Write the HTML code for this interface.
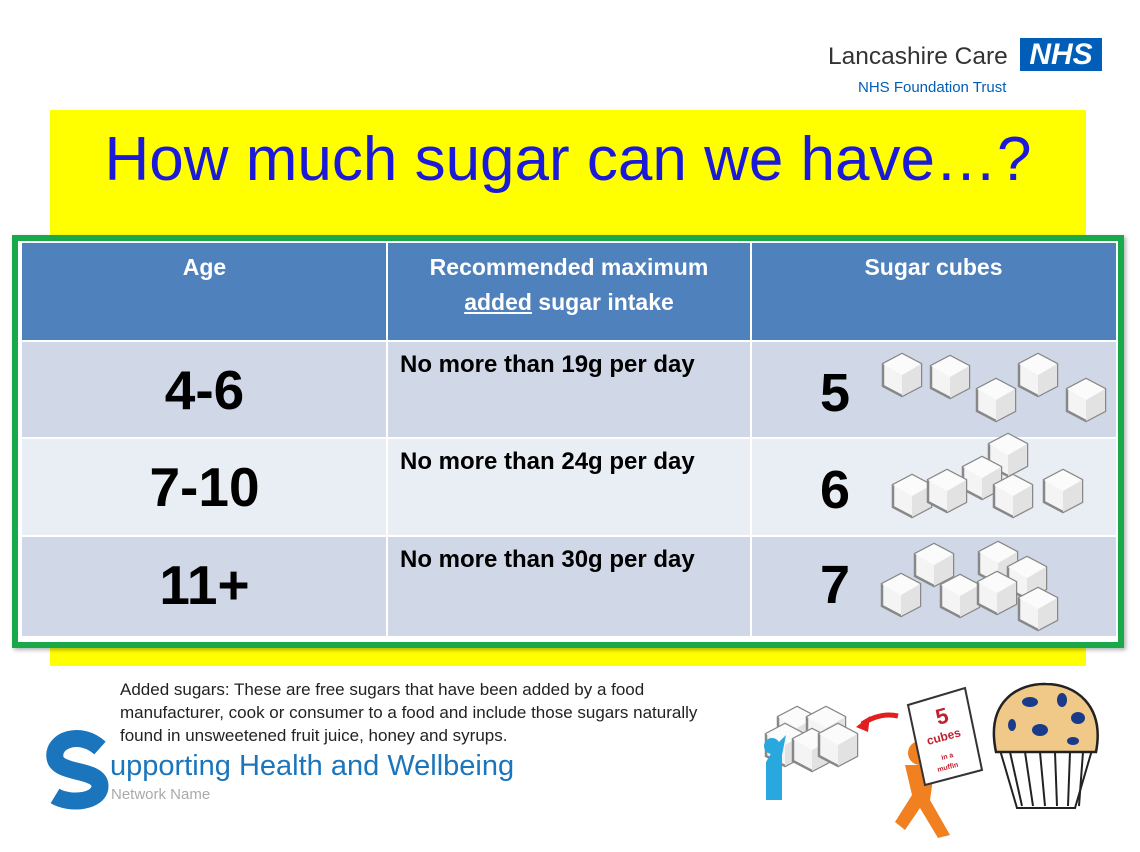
<!DOCTYPE html>
<html><head><meta charset="utf-8"><style>
body{margin:0;width:1140px;height:852px;background:#fff;position:relative;overflow:hidden;font-family:"Liberation Sans",sans-serif}
.abs{position:absolute}
.cell{position:absolute;color:#000;font-weight:bold}
</style></head><body>
<div class="abs" style="left:828px;top:43px;font-size:24.5px;color:#333">Lancashire Care</div>
<div class="abs" style="left:1020px;top:38px;width:82px;height:33px;background:#005eb8;color:#fff;font-weight:bold;font-style:italic;font-size:30px;line-height:33px;text-align:center">NHS</div>
<div class="abs" style="left:858px;top:79px;font-size:15px;color:#005eb8">NHS Foundation Trust</div>
<div class="abs" style="left:50px;top:110px;width:1036px;height:556px;background:#ffff00"></div>
<div class="abs" style="left:50px;top:124px;width:1036px;text-align:center;font-size:62px;color:#1a1ad8">How much sugar can we have…?</div>
<div class="abs" style="left:12px;top:235px;width:1100px;height:401px;border:6px solid #19a84a;background:#fff;box-shadow:2px 2px 4px rgba(0,0,0,.3)"></div>
<div class="abs" style="left:22px;top:243px;width:1094px;height:97px;background:#4f81bd"></div>
<div class="abs" style="left:22px;top:342px;width:1094px;height:95px;background:#d0d8e8"></div>
<div class="abs" style="left:22px;top:439px;width:1094px;height:96px;background:#e9edf4"></div>
<div class="abs" style="left:22px;top:537px;width:1094px;height:99px;background:#d0d8e8"></div>
<div class="abs" style="left:386px;top:243px;width:2px;height:393px;background:#fff"></div>
<div class="abs" style="left:750px;top:243px;width:2px;height:393px;background:#fff"></div>
<div class="cell" style="left:22px;top:254px;width:365px;text-align:center;color:#fff;font-size:23px">Age</div>
<div class="cell" style="left:387px;top:250px;width:364px;text-align:center;color:#fff;font-size:23px;line-height:35px">Recommended maximum<br><u>added</u> sugar intake</div>
<div class="cell" style="left:751px;top:254px;width:365px;text-align:center;color:#fff;font-size:23px">Sugar cubes</div>
<div class="cell" style="left:22px;top:358px;width:365px;text-align:center;font-size:55px">4-6</div>
<div class="cell" style="left:22px;top:455px;width:365px;text-align:center;font-size:55px">7-10</div>
<div class="cell" style="left:22px;top:553px;width:365px;text-align:center;font-size:55px">11+</div>
<div class="cell" style="left:400px;top:351px;font-size:24px">No more than 19g per day</div>
<div class="cell" style="left:400px;top:448px;font-size:24px">No more than 24g per day</div>
<div class="cell" style="left:400px;top:546px;font-size:24px">No more than 30g per day</div>
<div class="cell" style="left:820px;top:362px;font-size:54px">5</div>
<div class="cell" style="left:820px;top:459px;font-size:54px">6</div>
<div class="cell" style="left:820px;top:554px;font-size:54px">7</div>
<svg class="abs" style="left:0;top:0" width="1140" height="852">
<defs><g id="c"><polygon points="0,-21 19,-11 19,11 0,21 -19,11 -19,-11" fill="#f4f4f4" stroke="#888" stroke-width="2.5"/><polygon points="0,0 19,-11 19,11 0,21" fill="#e2e2e2"/><polygon points="0,-21 19,-11 0,0 -19,-11" fill="#fbfbfb"/></g></defs>
<use href="#c" x="902" y="375"/><use href="#c" x="950" y="377"/><use href="#c" x="996" y="400"/><use href="#c" x="1038" y="375"/><use href="#c" x="1086" y="400"/>
<use href="#c" x="1008" y="455"/><use href="#c" x="982" y="478"/><use href="#c" x="912" y="496"/><use href="#c" x="947" y="491"/><use href="#c" x="1013" y="496"/><use href="#c" x="1063" y="491"/>
<use href="#c" x="934" y="565"/><use href="#c" x="998" y="563"/><use href="#c" x="1027" y="578"/><use href="#c" x="901" y="595"/><use href="#c" x="960" y="596"/><use href="#c" x="997" y="593"/><use href="#c" x="1038" y="609"/>
<path d="M100 748 C80 730 52 740 55 758 C58 775 100 768 100 786 C100 802 70 805 55 796" fill="none" stroke="#1b75bc" stroke-width="17"/>
<use href="#c" x="797" y="728"/><use href="#c" x="826" y="728"/><use href="#c" x="785" y="745"/><use href="#c" x="812" y="750"/><use href="#c" x="838" y="745"/>
<path d="M766 800 L766 762 L776 745 L786 735 L782 755 L782 800 Z" fill="#29a8e0"/>
<circle cx="772" cy="746" r="8" fill="#29a8e0"/>
<path d="M898 716 Q880 712 862 724" fill="none" stroke="#e02020" stroke-width="5"/>
<polygon points="856,727 870,716 868,732" fill="#e02020"/>
<circle cx="920" cy="753" r="12" fill="#f08020"/>
<path d="M905 765 L935 765 L930 800 L950 835 L938 838 L920 808 L905 830 L895 822 L912 795 Z" fill="#f08020"/>
<polygon points="908,705 965,688 982,770 925,785" fill="#fff" stroke="#333" stroke-width="2"/>
<text x="938" y="725" font-family="Liberation Sans,sans-serif" font-weight="bold" font-size="22" fill="#c02030" transform="rotate(-15 938 725)">5</text>
<text x="928" y="745" font-family="Liberation Sans,sans-serif" font-weight="bold" font-size="12" fill="#c02030" transform="rotate(-15 928 745)">cubes</text>
<text x="942" y="760" font-family="Liberation Sans,sans-serif" font-weight="bold" font-size="7" fill="#c02030" transform="rotate(-15 942 760)">in a</text>
<text x="938" y="772" font-family="Liberation Sans,sans-serif" font-weight="bold" font-size="7" fill="#c02030" transform="rotate(-15 938 772)">muffin</text>
<path d="M1000 750 L1092 750 L1075 808 L1017 808 Z" fill="#fff" stroke="#222" stroke-width="2"/>
<path d="M1010 752 L1022 806 M1025 752 L1033 806 M1040 752 L1045 806 M1055 752 L1057 806 M1070 752 L1068 806 M1083 752 L1079 806" stroke="#222" stroke-width="2"/>
<path d="M996 752 C985 700 1020 683 1046 684 C1075 684 1105 705 1096 752 Z" fill="#f0c888" stroke="#222" stroke-width="2.5"/>
<ellipse cx="1030" cy="702" rx="8" ry="5" fill="#1a3a8a"/><ellipse cx="1062" cy="700" rx="5" ry="7" fill="#1a3a8a"/><ellipse cx="1078" cy="718" rx="7" ry="6" fill="#1a3a8a"/><ellipse cx="1040" cy="730" rx="8" ry="6" fill="#1a3a8a"/><ellipse cx="1012" cy="725" rx="4" ry="6" fill="#1a3a8a"/><ellipse cx="1073" cy="741" rx="6" ry="4" fill="#1a3a8a"/>
</svg>
<div class="abs" style="left:120px;top:678px;font-size:17px;line-height:23px;color:#222;white-space:nowrap">Added sugars: These are free sugars that have been added by a food<br>manufacturer, cook or consumer to a food and include those sugars naturally<br>found in unsweetened fruit juice, honey and syrups.</div>
<div class="abs" style="left:110px;top:750px;font-size:29px;color:#1b75bc;white-space:nowrap">upporting Health and Wellbeing</div>
<div class="abs" style="left:111px;top:786px;font-size:15px;color:#aaa">Network Name</div>
</body></html>
